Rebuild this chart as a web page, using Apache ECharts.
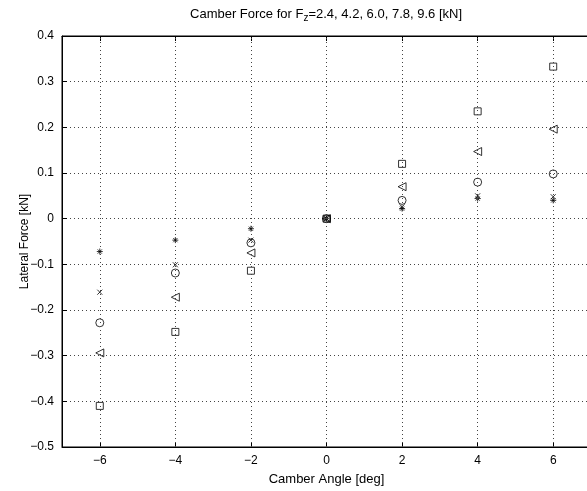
<!DOCTYPE html>
<html>
<head>
<meta charset="utf-8">
<script src="https://cdn.jsdelivr.net/npm/echarts@6/dist/echarts.min.js"></script>
<style>
  html, body { margin: 0; padding: 0; background: #fff; overflow: hidden; }
  #main { width: 600px; height: 491px; }
</style>
</head>
<body>
<div id="main"></div>
<script>
// camber angles [deg]
const camber = [-6, -4, -2, 0, 2, 4, 6];
// lateral force [kN] for each vertical load
const fz96 = [-0.41, -0.248, -0.114, 0, 0.12, 0.235, 0.333];
const fz78 = [-0.294, -0.172, -0.075, 0, 0.07, 0.147, 0.196];
const fz60 = [-0.228, -0.119, -0.053, 0, 0.04, 0.08, 0.098];
const fz42 = [-0.161, -0.101, -0.047, 0, 0.026, 0.05, 0.048];
const fz24 = [-0.072, -0.047, -0.022, 0, 0.022, 0.044, 0.04];
const xTicks = [-6, -4, -2, 0, 2, 4, 6];

const font = 'Liberation Sans, Arial, Helvetica, sans-serif';
const minus = v => String(v).replace('-', '\u2212');

const pts = arr => camber.map((c, i) => [c, arr[i]]);

const triLeft = 'path://M0,5L10,0L10,10Z';
const cross = 'path://M0,0L10,10M10,0L0,10';
const star = 'path://M5,0L5,10M0,5L10,5M1.5,1.5L8.5,8.5M8.5,1.5L1.5,8.5';

function mk(name, data, symbol, size) {
  return {
    name: name,
    type: 'scatter',
    data: pts(data),
    symbol: symbol,
    symbolSize: size,
    itemStyle: { color: 'rgba(0,0,0,0)', borderColor: '#000', borderWidth: 1 },
    emphasis: { disabled: true }
  };
}

const chart = echarts.init(document.getElementById('main'));
chart.setOption({
  animation: false,
  title: {
    text: 'Camber Force for F{sub|z}=2.4, 4.2, 6.0, 7.8, 9.6 [kN]',
    left: 321,
    top: 1,
    textAlign: 'center',
    textStyle: {
      fontFamily: font, fontSize: 13, fontWeight: 'normal', color: '#000',
      rich: { sub: { fontFamily: font, fontSize: 10, color: '#000', verticalAlign: 'bottom', padding: [7, 0, 0, 0] } }
    }
  },
  grid: { left: 62, right: 9, top: 36, bottom: 42, show: true, borderColor: '#000', borderWidth: 1, backgroundColor: 'transparent' },
  xAxis: [{
    type: 'value', min: -7, max: 7, interval: 2,
    name: 'Camber Angle [deg]', nameLocation: 'middle', nameGap: 26, nameMoveOverlap: false,
    nameTextStyle: { fontFamily: font, fontSize: 13, color: '#000' },
    axisLine: { show: true, onZero: false, lineStyle: { color: '#000', width: 1 } },
    axisTick: { show: true, inside: true, length: 5, lineStyle: { color: '#000' }, customValues: xTicks },
    axisLabel: { fontFamily: font, fontSize: 12, color: '#000', margin: 8, customValues: xTicks, formatter: minus },
    splitLine: { show: false }
  }, {
    type: 'value', position: 'top', min: -7, max: 7, interval: 2,
    axisLine: { show: true, onZero: false, lineStyle: { color: '#000', width: 1 } },
    axisTick: { show: true, inside: true, length: 5, lineStyle: { color: '#000' }, customValues: xTicks },
    axisLabel: { show: false },
    splitLine: { show: false }
  }],
  yAxis: {
    type: 'value', min: -0.5, max: 0.4, interval: 0.1,
    name: 'Lateral Force [kN]', nameLocation: 'middle', nameGap: 31, nameMoveOverlap: false,
    nameTextStyle: { fontFamily: font, fontSize: 12, color: '#000' },
    axisLine: { show: true, onZero: false, lineStyle: { color: '#000', width: 1 } },
    axisTick: { show: true, inside: true, length: 5, lineStyle: { color: '#000' } },
    axisLabel: { fontFamily: font, fontSize: 12, color: '#000', margin: 8,
      formatter: v => minus(Math.round(v * 10) / 10) },
    splitLine: { show: true, lineStyle: { color: '#444', width: 1, type: [1, 3] } }
  },
  series: [
    mk('Fz=9.6', fz96, 'rect', 7),
    mk('Fz=7.8', fz78, triLeft, 8),
    mk('Fz=6.0', fz60, 'circle', 8),
    mk('Fz=4.2', fz42, cross, 5),
    mk('Fz=2.4', fz24, star, 6),
    {
      type: 'line', data: [], silent: true,
      markLine: {
        silent: true, symbol: 'none', label: { show: false },
        lineStyle: { color: '#444', width: 1, type: [1, 3] },
        data: xTicks.map(v => ({ xAxis: v }))
      }
    }
  ]
});
</script>
</body>
</html>
